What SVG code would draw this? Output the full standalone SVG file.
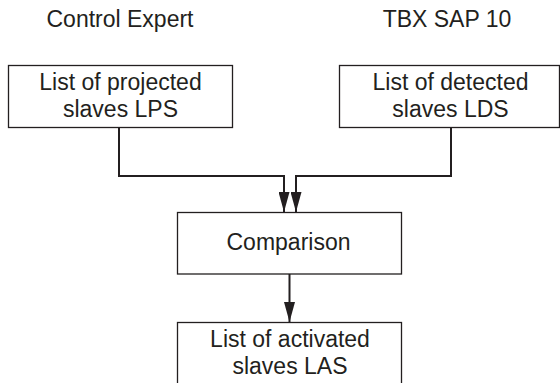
<svg xmlns="http://www.w3.org/2000/svg" width="560" height="383" viewBox="0 0 560 383">
  <style>
    .box { fill: #ffffff; stroke: #231f20; stroke-width: 1.3; }
    .lbl { font-family: "Liberation Sans", Arial, sans-serif; font-size: 23px; fill: #231f20; text-anchor: middle; }
    .wire { fill: none; stroke: #231f20; stroke-width: 2; marker-end: url(#arrow); }
  </style>
  <defs>
    <marker id="arrow" markerUnits="userSpaceOnUse" markerWidth="20" markerHeight="11" refX="20" refY="5.5" orient="auto">
      <path d="M0,0 L20,5.5 L0,11 z" fill="#231f20"/>
    </marker>
  </defs>
  <rect width="560" height="383" fill="#ffffff"/>

  <!-- column headers -->
  <text class="lbl" x="120" y="27">Control Expert</text>
  <text class="lbl" x="447" y="27">TBX SAP 10</text>

  <g id="connectors">
    <path class="wire" d="M119,127 V176 H284 V212"/>
    <path class="wire" d="M451,127 V176 H296 V212"/>
    <path class="wire" d="M289.5,274 V322"/>
  </g>

  <g id="lps">
    <rect class="box" x="8.5" y="65.5" width="224" height="62"/>
    <text class="lbl" x="120.5" y="89.5">List of projected</text>
    <text class="lbl" x="120.5" y="116.5">slaves LPS</text>
  </g>

  <g id="lds">
    <rect class="box" x="339.5" y="65.5" width="220" height="62"/>
    <text class="lbl" x="450.5" y="89.5">List of detected</text>
    <text class="lbl" x="450.5" y="116.5">slaves LDS</text>
  </g>

  <g id="comparison">
    <rect class="box" x="177.5" y="212.5" width="224" height="61.5"/>
    <text class="lbl" x="288.5" y="250">Comparison</text>
  </g>

  <g id="las">
    <rect class="box" x="177.5" y="322.5" width="224" height="62"/>
    <text class="lbl" x="290" y="346.5">List of activated</text>
    <text class="lbl" x="290" y="373.5">slaves LAS</text>
  </g>
</svg>
